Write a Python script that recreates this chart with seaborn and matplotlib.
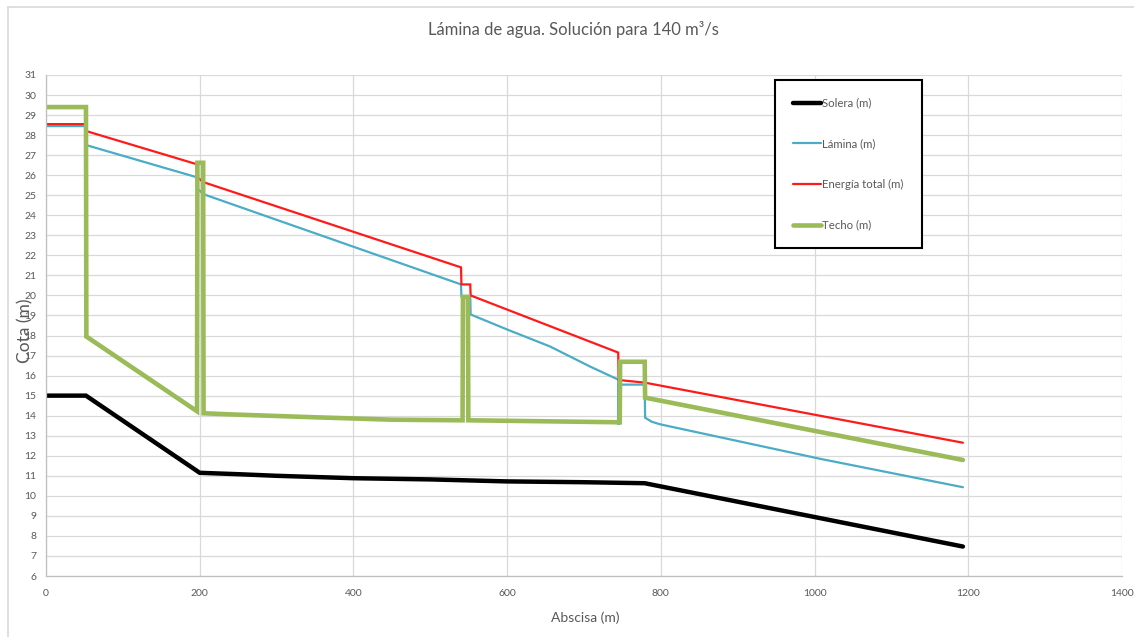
import matplotlib
matplotlib.use("Agg")
import matplotlib.pyplot as plt
from matplotlib.lines import Line2D
import seaborn as sns
import numpy as np

# Perfil longitudinal: abscisa (m) y cotas (m) de cada serie
solera_x = [0, 52, 200, 250, 300, 400, 500, 550, 600, 700, 779, 1193]
solera_y = [15.0, 15.0, 11.15, 11.08, 11.0, 10.88, 10.82, 10.77, 10.72, 10.68, 10.63, 7.47]

lamina_x = [0, 52, 52.5, 196, 196.5, 205, 540, 540.5, 552, 552.5, 600, 656, 708,
            744.5, 745, 745.5, 779, 779.5, 788, 799, 1007, 1193]
lamina_y = [28.45, 28.45, 27.5, 25.9, 25.35, 25.05, 20.55, 19.95, 19.95, 19.05, 18.3, 17.45, 16.45,
            15.8, 13.55, 15.55, 15.55, 13.9, 13.7, 13.57, 11.85, 10.43]

energia_x = [0, 52, 52.5, 196, 196.5, 205, 540, 540.5, 552, 552.5, 744.5, 745, 779, 1193]
energia_y = [28.55, 28.55, 28.2, 26.55, 25.9, 25.65, 21.4, 20.55, 20.55, 20.0, 17.15, 15.78, 15.65, 12.65]

techo_x = [0, 52, 52.5, 196.5, 197, 204.5, 205, 250, 350, 450, 542, 542.5, 549, 549.5,
           650, 746.5, 747, 779, 779.5, 1193]
techo_y = [29.4, 29.4, 17.95, 14.22, 26.62, 26.62, 14.12, 14.05, 13.92, 13.8, 13.77, 19.93, 19.93, 13.77,
           13.72, 13.67, 16.69, 16.69, 14.9, 11.79]

series = [
    ("Solera (m)", solera_x, solera_y, "#000000", 3.2),
    ("Lámina (m)", lamina_x, lamina_y, "#4bacc6", 1.6),
    ("Energía total (m)", energia_x, energia_y, "#ff1a1a", 1.6),
    ("Techo (m)", techo_x, techo_y, "#9bbb59", 3.3),
]

x_ticks = [0, 200, 400, 600, 800, 1000, 1200, 1400]
y_ticks = list(range(6, 32))

sns.set_style("white")
plt.rcParams["font.family"] = ["Lato", "DejaVu Sans"]

text_color = "#595959"
grid_color = "#d9d9d9"

fig = plt.figure(figsize=(11.34, 6.37), dpi=100)
W, H = 1134, 637
ax = fig.add_axes([46 / W, 1 - 576 / H, (1122 - 46) / W, (576 - 75) / H])

for label, xs, ys, color, lw in series:
    sns.lineplot(x=xs, y=ys, ax=ax, sort=False, estimator=None, color=color,
                 linewidth=lw, label=label, solid_joinstyle="miter")

ax.set_xlim(0, 1400)
ax.set_ylim(6, 31)
ax.set_xticks(x_ticks)
ax.set_yticks(y_ticks)
ax.tick_params(axis="both", length=0, labelsize=7.5, labelcolor=text_color)
ax.tick_params(axis="y", pad=7)
ax.tick_params(axis="x", pad=9)
ax.grid(True, color=grid_color, linewidth=0.9)
ax.set_axisbelow(True)
for side in ["top", "right"]:
    ax.spines[side].set_visible(False)
for side in ["left", "bottom"]:
    ax.spines[side].set_color("#bfbfbf")
    ax.spines[side].set_linewidth(0.9)

ax.set_xlabel("Abscisa (m)", fontsize=10, color=text_color)
ax.xaxis.set_label_coords(0.501, -0.07)
ax.set_ylabel("Cota (m)", fontsize=12.5, color=text_color)
ax.yaxis.set_label_coords(-0.012, 0.49)

fig.text(573 / W, 1 - 30 / H, "Lámina de agua. Solución para 140 m³/s",
         ha="center", va="center", fontsize=12, color=text_color)

leg = ax.legend(loc="upper left", bbox_to_anchor=(0.6775, 0.99), frameon=True,
                fontsize=8.2, handlelength=2.5, handletextpad=0.12,
                labelspacing=2.6, borderpad=1.55, borderaxespad=0.0,
                fancybox=False, framealpha=1.0)
leg.get_frame().set_edgecolor("#000000")
leg.get_frame().set_linewidth(1.5)
for t in leg.get_texts():
    t.set_color(text_color)

# Borde exterior del gráfico
fig.add_artist(Line2D([8 / W, 8 / W], [0, 1 - 7 / H], transform=fig.transFigure,
                      color=grid_color, linewidth=1.2))
fig.add_artist(Line2D([8 / W, 1], [1 - 7 / H, 1 - 7 / H], transform=fig.transFigure,
                      color=grid_color, linewidth=1.2))

fig.savefig("out.png", dpi=100)
